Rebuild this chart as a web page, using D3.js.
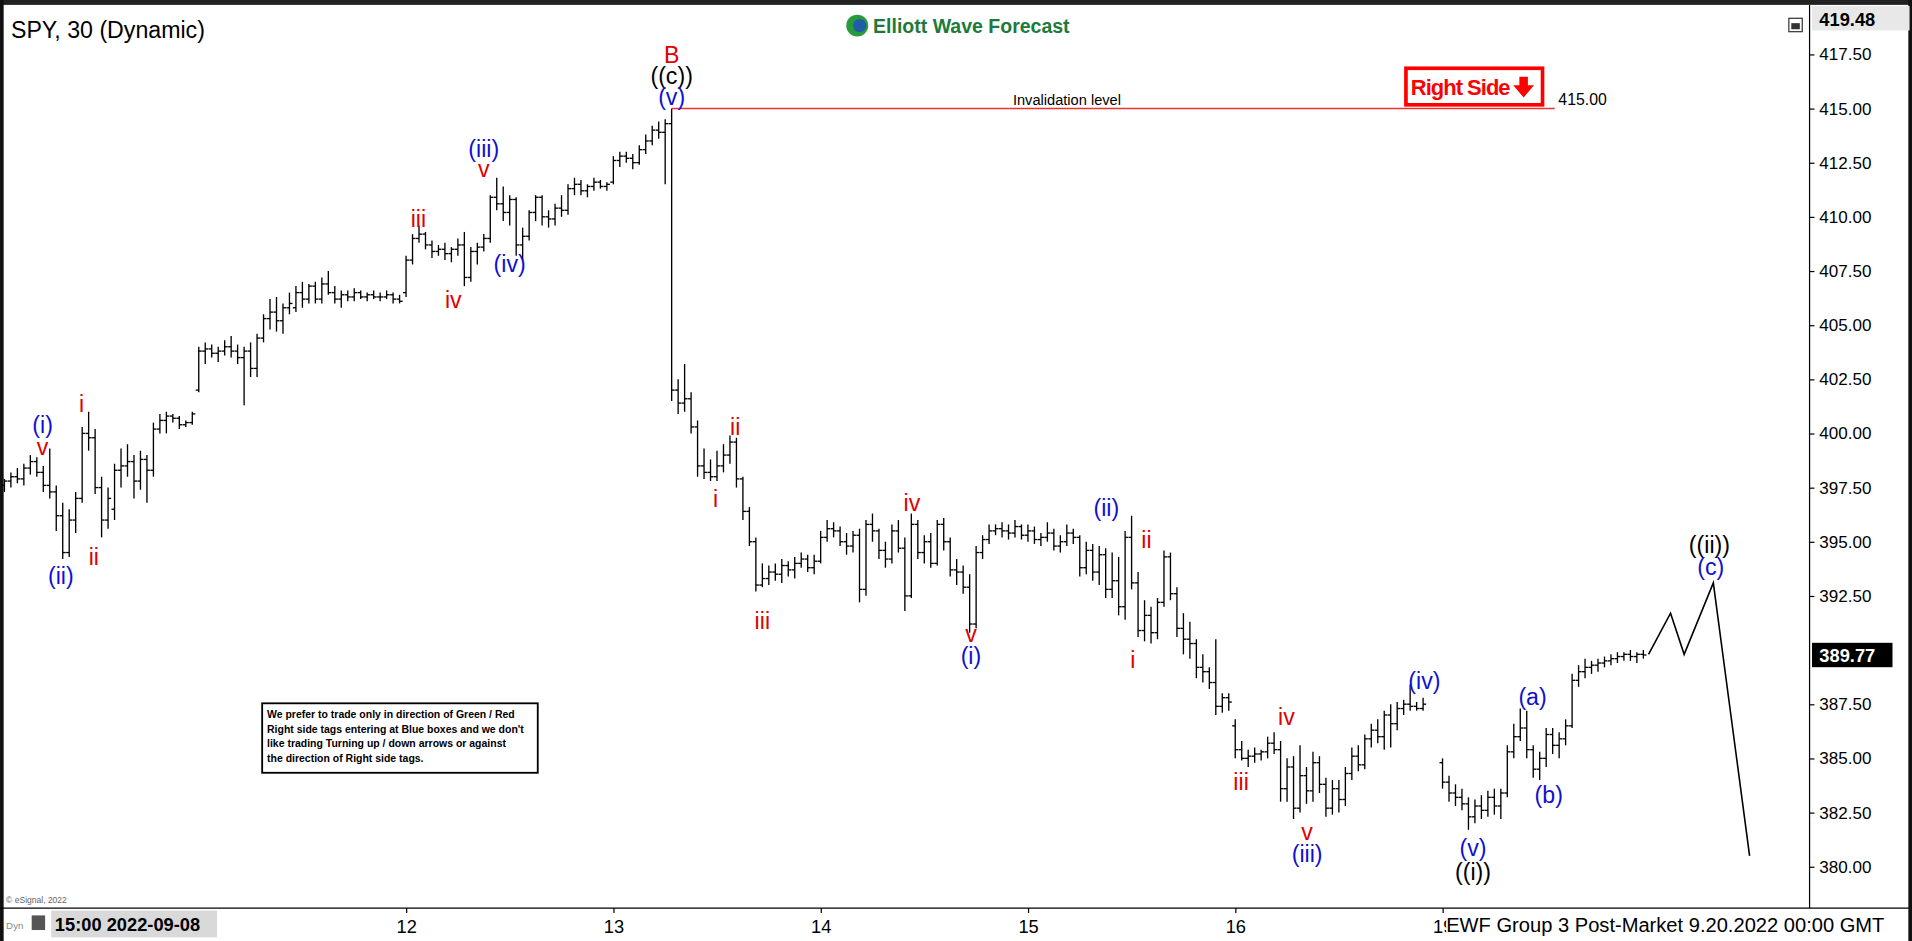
<!DOCTYPE html>
<html><head><meta charset="utf-8">
<script src="https://cdn.jsdelivr.net/npm/d3@7"></script>
<style>body{margin:0;background:#fff;overflow:hidden}svg{display:block;font-family:Arial,"Liberation Sans",sans-serif}</style>
</head><body><svg id="canvas"></svg>
<script>
"use strict";
// bars per trading day: [open, high, low, close]
var days = ["08", "09", "12", "13", "14", "15", "16", "19"];
var dayLabels = ["", "", "12", "13", "14", "15", "16", "19"];
var firstSlot = [2, 0, 0, 0, 0, 0, 0, 0];

var sep08 = [[397.6,397.9,397.3,397.8],[397.8,398.2,397.5,398.0],[398.0,398.4,397.7,397.9],[397.9,398.6,397.6,398.4],[398.4,399.0,398.1,398.7],[398.7,398.9,398.0,398.2],[398.2,398.5,397.3,397.6],[397.6,399.3,397.0,397.3],[397.3,397.6,395.5,396.2],[396.2,396.8,394.2,394.5],[394.5,396.5,394.3,396.0],[396.0,397.3,395.4,397.0],[397.0,400.3,396.8,400.0],[400.0,401.0,399.2,399.8],[399.8,400.2,397.2,397.5],[397.5,398.0,395.2,396.0],[396.0,397.5,395.6,397.0],[396.5,398.6,396.0,398.3],[398.3,399.3,397.5,398.5],[398.5,399.5,398.0,398.7],[398.7,399.0,397.0,397.8],[397.8,399.2,397.4,398.8],[398.8,399.0,396.8,398.3],[398.3,400.5,398.0,400.2],[400.2,400.9,400.0,400.6],[400.6,401.0,400.0,400.8],[400.8,400.9,400.5,400.7],[400.7,400.8,400.2,400.4],[400.4,400.6,400.3,400.5],[400.5,401.0,400.4,400.9]];
var sep09 = [[402.0,404.0,401.9,403.8],[403.8,404.2,403.2,403.9],[403.9,404.1,403.5,403.7],[403.7,404.0,403.3,403.8],[403.8,404.3,403.6,404.0],[404.0,404.5,403.5,403.8],[403.8,404.1,403.2,403.5],[403.5,404.0,401.3,403.8],[403.8,404.2,402.6,403.0],[403.0,404.6,402.6,404.4],[404.4,405.5,404.2,405.3],[405.3,406.2,404.8,405.6],[405.6,406.3,404.7,405.2],[405.2,406.0,404.6,405.8],[405.8,406.5,405.5,406.0],[405.8,406.8,405.6,406.5],[406.5,407.0,405.8,406.2],[406.2,406.9,406.0,406.8],[406.8,407.0,406.0,406.2],[406.2,407.2,406.0,406.9],[406.9,407.5,406.4,406.5],[406.5,406.8,406.0,406.2],[406.2,406.6,405.8,406.4],[406.4,406.6,406.1,406.3],[406.3,406.7,406.1,406.5],[406.5,406.6,406.2,406.3],[406.3,406.5,406.1,406.4],[406.4,406.6,406.2,406.3],[406.3,406.5,406.1,406.3],[406.3,406.6,406.2,406.4],[406.4,406.5,406.0,406.2],[406.2,406.4,406.0,406.1]];
var sep12 = [[406.5,408.2,406.3,408.0],[408.0,409.2,407.8,409.0],[409.0,409.6,408.8,409.2],[409.2,409.3,408.5,408.7],[408.7,408.9,408.1,408.4],[408.4,408.7,408.2,408.5],[408.5,408.8,408.0,408.3],[408.3,408.6,407.9,408.5],[408.5,409.0,408.2,408.7],[408.7,409.3,406.8,407.2],[407.2,408.6,407.0,408.4],[408.4,408.8,407.8,408.6],[408.6,409.2,408.4,409.0],[409.0,411.0,408.8,410.9],[410.9,411.8,410.3,410.6],[410.6,411.4,409.8,410.2],[410.2,411.0,409.6,410.8],[410.8,410.9,408.2,408.7],[408.7,409.5,408.0,409.1],[409.1,410.3,408.9,410.2],[410.2,411.0,409.8,410.9],[410.9,411.0,409.6,410.0],[410.0,410.3,409.5,409.9],[409.9,410.6,409.6,410.4],[410.4,411.0,410.0,410.3],[410.3,411.5,410.1,411.3],[411.3,411.8,411.0,411.5],[411.5,411.7,411.0,411.2],[411.2,411.5,410.9,411.4],[411.4,411.8,411.2,411.6],[411.6,411.7,411.3,411.4],[411.4,411.6,411.2,411.5]];
var sep13 = [[411.6,412.8,411.5,412.6],[412.6,413.0,412.3,412.8],[412.8,413.0,412.5,412.7],[412.7,412.9,412.2,412.5],[412.5,413.3,412.4,413.1],[413.1,413.8,412.9,413.5],[413.5,414.2,413.3,414.0],[414.0,414.4,413.6,413.9],[413.9,414.5,411.5,414.3],[414.3,415.0,401.5,402.0],[402.0,402.5,400.9,401.4],[401.4,403.2,401.0,401.6],[401.6,401.9,400.0,400.3],[400.3,400.6,398.0,398.5],[398.5,399.3,397.9,398.2],[398.2,398.8,397.8,398.0],[398.0,399.2,397.8,398.5],[398.5,399.5,398.2,399.0],[399.0,399.9,398.6,399.6],[399.6,399.8,397.5,397.9],[397.9,398.0,396.0,396.4],[396.4,396.6,394.8,395.0],[395.0,395.2,392.7,393.0],[393.0,394.0,392.9,393.3],[393.3,393.9,393.0,393.6],[393.6,394.0,393.2,393.5],[393.5,394.2,393.1,393.9],[393.9,394.1,393.4,393.7],[393.7,394.3,393.3,394.0],[394.0,394.5,393.8,394.2],[394.2,394.4,393.6,393.8],[393.8,394.4,393.5,394.1]];
var sep14 = [[394.1,395.5,394.0,395.2],[395.2,396.0,395.0,395.6],[395.6,395.9,395.2,395.5],[395.5,395.7,394.8,395.0],[395.0,395.4,394.4,394.8],[394.8,395.5,394.5,395.3],[395.3,395.6,392.2,392.8],[392.8,396.0,392.5,395.8],[395.8,396.3,395.0,395.5],[395.5,395.6,394.2,394.6],[394.6,395.0,393.8,394.2],[394.2,395.8,394.0,395.5],[395.5,396.0,394.5,394.7],[394.7,395.2,391.8,392.5],[392.5,396.3,392.4,395.8],[395.8,396.0,394.2,394.5],[394.5,395.3,394.0,395.0],[395.0,395.4,393.8,394.0],[394.0,396.0,393.9,395.8],[395.8,396.1,394.6,395.0],[395.0,395.2,393.4,393.7],[393.7,394.2,393.0,393.6],[393.6,393.9,392.6,392.9],[392.9,393.5,390.8,391.2],[391.2,394.8,391.0,394.5],[394.5,395.3,394.2,395.1],[395.1,395.8,394.9,395.5],[395.5,395.8,395.3,395.6],[395.6,395.9,395.2,395.5],[395.5,395.8,395.1,395.4],[395.4,396.0,395.2,395.7],[395.7,395.8,395.1,395.3]];
var sep15 = [[395.3,395.8,395.0,395.5],[395.5,395.7,394.9,395.1],[395.1,395.4,394.8,395.2],[395.2,395.9,395.0,395.4],[395.4,395.6,394.6,394.8],[394.8,395.3,394.5,395.0],[395.0,395.8,394.8,395.4],[395.4,395.6,394.9,395.2],[395.2,395.3,393.4,393.8],[393.8,395.0,393.5,394.6],[394.6,394.9,393.2,393.6],[393.6,394.8,393.0,394.4],[394.4,394.7,392.4,392.8],[392.8,394.5,392.4,393.2],[393.2,394.3,391.6,392.0],[392.0,395.5,391.4,395.2],[395.2,396.2,392.8,393.1],[393.1,393.6,390.6,390.9],[390.9,392.3,390.4,391.6],[391.6,392.0,390.3,390.8],[390.8,392.4,390.5,392.2],[392.2,394.6,392.0,394.3],[394.3,394.5,392.3,392.6],[392.6,392.9,390.6,391.0],[391.0,391.7,389.8,390.5],[390.5,391.3,389.6,390.3],[390.3,390.5,388.7,389.2],[389.2,389.8,388.5,389.0],[389.0,389.2,388.2,388.5],[388.5,390.5,387.0,387.4],[387.4,388.0,387.1,387.8],[387.8,388.0,387.2,387.6]];
var sep16 = [[386.5,386.8,385.0,385.4],[385.4,385.8,384.9,385.0],[385.0,385.4,384.6,385.1],[385.1,385.5,384.8,385.2],[385.2,385.4,384.9,385.3],[385.3,386.0,385.0,385.7],[385.7,386.2,385.2,385.4],[385.4,385.8,383.0,383.6],[383.6,385.0,383.0,384.6],[384.6,385.1,382.2,382.7],[382.7,385.6,382.5,384.2],[384.2,384.6,382.9,383.5],[383.5,385.3,383.0,384.8],[384.8,385.1,383.4,383.8],[383.8,384.1,382.3,382.7],[382.7,384.0,382.4,383.6],[383.6,384.0,382.5,383.1],[383.1,384.6,382.8,384.3],[384.3,385.5,384.0,385.1],[385.1,385.6,384.4,384.7],[384.7,386.1,384.5,385.9],[385.9,386.6,385.5,386.3],[386.3,386.8,385.7,386.0],[386.0,387.2,385.4,387.0],[387.0,387.5,385.5,386.6],[386.6,387.6,386.3,387.3],[387.3,387.7,387.0,387.5],[387.5,388.4,387.2,387.4],[387.4,387.6,387.2,387.3],[387.3,387.8,387.2,387.5]];
var sep19 = [[384.8,385.0,383.6,383.9],[383.9,384.2,383.0,383.4],[383.4,383.8,382.8,383.2],[383.2,383.6,382.6,382.9],[382.9,383.2,381.7,382.3],[382.3,383.1,382.0,382.8],[382.8,383.3,382.2,382.6],[382.6,383.5,382.3,383.2],[383.2,383.6,382.4,382.8],[382.8,383.6,382.2,383.4],[383.4,385.6,383.2,385.3],[385.3,386.6,385.0,386.0],[386.0,387.3,385.8,386.4],[386.4,387.2,385.0,385.4],[385.4,385.6,384.1,384.5],[384.5,385.3,384.0,385.0],[385.0,386.4,384.6,386.1],[386.1,386.4,385.2,385.6],[385.6,386.2,385.0,385.9],[385.9,386.8,385.6,386.5],[386.5,388.9,386.4,388.6],[388.6,389.3,388.3,389.0],[389.0,389.6,388.7,389.2],[389.2,389.5,388.9,389.3],[389.3,389.6,389.0,389.4],[389.4,389.7,389.2,389.5],[389.5,389.8,389.3,389.6],[389.6,389.9,389.4,389.7],[389.7,389.9,389.5,389.8],[389.8,390.0,389.5,389.7],[389.7,389.9,389.4,389.8],[389.8,390.0,389.6,389.77]];
var dayBars = [sep08, sep09, sep12, sep13, sep14, sep15, sep16, sep19];

var priceTicks = [380, 382.5, 385, 387.5, 392.5, 395, 397.5, 400, 402.5, 405, 407.5, 410, 412.5, 415, 417.5];
var lastPrice = 389.77, topPrice = 419.48, invalidation = 415.00;

// projected path [slot, price]
var projection = [[255.8, 389.8], [259.2, 391.7], [261.3, 389.8], [265.8, 393.1], [271.4, 380.5]];

// wave labels [text, slot, price, colour]
var waves = [
  ["(i)", 7.9, 400.31, "b"], ["v", 7.9, 399.3, "r"], ["(ii)", 10.7, 393.34, "b"],
  ["i", 13.9, 401.27, "r"], ["ii", 15.8, 394.23, "r"],
  ["iii", 65.9, 409.82, "r"], ["iv", 71.3, 406.05, "r"],
  ["(iii)", 76.0, 413.03, "b"], ["v", 76.0, 412.13, "r"], ["(iv)", 80.0, 407.74, "b"],
  ["B", 105.0, 417.36, "r"], ["((c))", 105.0, 416.41, "k"], ["(v)", 105.0, 415.45, "b"],
  ["i", 111.8, 396.88, "r"], ["ii", 114.8, 400.2, "r"], ["iii", 119.0, 391.25, "r"],
  ["iv", 142.1, 396.71, "r"], ["v", 151.2, 390.63, "r"], ["(i)", 151.2, 389.62, "b"],
  ["(ii)", 172.1, 396.49, "b"], ["ii", 178.3, 394.97, "r"], ["i", 176.2, 389.45, "r"],
  ["iii", 192.9, 383.82, "r"], ["iv", 199.9, 386.81, "r"], ["v", 203.1, 381.52, "r"],
  ["(iii)", 203.1, 380.51, "b"], ["(iv)", 221.2, 388.49, "b"],
  ["(v)", 228.7, 380.78, "b"], ["((i))", 228.7, 379.66, "k"],
  ["(a)", 237.9, 387.76, "b"], ["(b)", 240.4, 383.21, "b"],
  ["((ii))", 265.2, 394.74, "k"], ["(c)", 265.4, 393.73, "b"]
];
var colours = {r: "#e00000", b: "#1010d0", k: "#000"};

var noteLines = ["We prefer to trade only in direction of Green / Red",
  "Right side tags entering at Blue boxes and we don't",
  "like trading Turning up / down arrows or against",
  "the direction of Right side tags."];

var W = 1568, H = 772;
var svg = d3.select("#canvas").attr("width", innerWidth).attr("height", innerHeight)
  .attr("viewBox", "0 0 " + W + " " + H).attr("preserveAspectRatio", "none");

var bars = [];
dayBars.forEach(function(arr, d) {
  arr.forEach(function(b, i) {
    bars.push({slot: d * 32 + firstSlot[d] + i, o: b[0], h: b[1], l: b[2], c: b[3]});
  });
});

var x = d3.scaleLinear().domain([0, 32]).range([-7, 163]);
var y = d3.scaleLinear().domain([380, 415]).range([711, 89]);

svg.append("rect").attr("width", W).attr("height", H).attr("fill", "#fff");
// frame
svg.append("rect").attr("x", 0).attr("y", 0).attr("width", W).attr("height", 4).attr("fill", "#222");
svg.append("rect").attr("x", 0).attr("y", 0).attr("width", 3).attr("height", H).attr("fill", "#111");
svg.append("line").attr("x1", 1484).attr("x2", 1484).attr("y1", 4).attr("y2", 745).attr("stroke", "#000");
svg.append("line").attr("x1", 0).attr("x2", W).attr("y1", 745).attr("y2", 745).attr("stroke", "#000");
svg.append("rect").attr("x", W - 3).attr("y", 0).attr("width", 3).attr("height", H).attr("fill", "#111");

// price axis
var yAxis = svg.append("g").attr("transform", "translate(1484,0)")
  .call(d3.axisRight(y).tickValues(priceTicks).tickFormat(d3.format(".2f")).tickSize(4));
yAxis.select(".domain").remove();
yAxis.selectAll("text").attr("font-size", 14).attr("fill", "#000").attr("x", 8);

// date axis
var xAxis = svg.append("g").attr("transform", "translate(0,745)")
  .call(d3.axisBottom(x).tickValues(d3.range(2, 8).map(function(d) { return d * 32; }))
    .tickFormat(function(d) { return dayLabels[d / 32]; }).tickSize(4));
xAxis.select(".domain").remove();
xAxis.selectAll("text").attr("font-size", 15).attr("fill", "#000").attr("dy", "0.9em");

// OHLC bars
var g = svg.append("g").attr("stroke", "#000").attr("stroke-width", 1.1);
g.selectAll(".hl").data(bars).join("line")
  .attr("x1", function(d) { return x(d.slot); }).attr("x2", function(d) { return x(d.slot); })
  .attr("y1", function(d) { return y(d.h); }).attr("y2", function(d) { return y(d.l); });
g.selectAll(".op").data(bars).join("line")
  .attr("x1", function(d) { return x(d.slot) - 2.5; }).attr("x2", function(d) { return x(d.slot); })
  .attr("y1", function(d) { return y(d.o); }).attr("y2", function(d) { return y(d.o); });
g.selectAll(".cl").data(bars).join("line")
  .attr("x1", function(d) { return x(d.slot); }).attr("x2", function(d) { return x(d.slot) + 2.5; })
  .attr("y1", function(d) { return y(d.c); }).attr("y2", function(d) { return y(d.c); });

// projection
svg.append("path").datum(projection)
  .attr("d", d3.line().x(function(d) { return x(d[0]); }).y(function(d) { return y(d[1]); }))
  .attr("fill", "none").attr("stroke", "#000").attr("stroke-width", 1.3);

// invalidation line
svg.append("line").attr("x1", x(105)).attr("x2", 1275).attr("y1", y(invalidation)).attr("y2", y(invalidation))
  .attr("stroke", "#e33").attr("stroke-width", 1.2);
svg.append("text").attr("x", 875).attr("y", y(invalidation) - 3).attr("text-anchor", "middle")
  .attr("font-size", 12).text("Invalidation level");
svg.append("text").attr("x", 1278).attr("y", y(invalidation) - 3).attr("font-size", 13).text("415.00");

// right side tag
svg.append("rect").attr("x", 1153).attr("y", 56).attr("width", 112).attr("height", 30)
  .attr("fill", "#fff").attr("stroke", "#f00").attr("stroke-width", 3);
svg.append("text").attr("x", 1157).attr("y", 78).attr("font-size", 18).attr("font-weight", "bold")
  .attr("fill", "#f00").attr("letter-spacing", -0.8).text("Right Side");
svg.append("path").attr("d", "M1246,63h7v7h5l-8.5,10l-8.5,-10h5z").attr("fill", "#f00");

// wave labels
svg.append("g").selectAll("text").data(waves).join("text")
  .attr("x", function(d) { return x(d[1]); }).attr("y", function(d) { return y(d[2]); })
  .attr("text-anchor", "middle").attr("dominant-baseline", "middle")
  .attr("font-size", 19).attr("fill", function(d) { return colours[d[3]]; })
  .text(function(d) { return d[0]; });

// current / top price boxes
svg.append("rect").attr("x", 1486).attr("y", y(lastPrice) - 10).attr("width", 66).attr("height", 20).attr("fill", "#000");
svg.append("text").attr("x", 1492).attr("y", y(lastPrice) + 6).attr("font-size", 15).attr("font-weight", "bold")
  .attr("fill", "#fff").text(lastPrice.toFixed(2));
svg.append("rect").attr("x", 1486).attr("y", 5).attr("width", 80).attr("height", 20).attr("fill", "#e8e8e8");
svg.append("text").attr("x", 1492).attr("y", 21).attr("font-size", 15).attr("font-weight", "bold")
  .text(topPrice.toFixed(2));
svg.append("rect").attr("x", 1467).attr("y", 15).attr("width", 11).attr("height", 11).attr("fill", "#fff").attr("stroke", "#333");
svg.append("rect").attr("x", 1469).attr("y", 19).attr("width", 7).attr("height", 5).attr("fill", "#333");

// title and logo
svg.append("text").attr("x", 9).attr("y", 31).attr("font-size", 19).text("SPY, 30 (Dynamic)");
svg.append("circle").attr("cx", 703).attr("cy", 21).attr("r", 9).attr("fill", "#2a9a3a");
svg.append("circle").attr("cx", 705).attr("cy", 21).attr("r", 5.5).attr("fill", "#1f5fa8");
svg.append("text").attr("x", 716).attr("y", 27).attr("font-size", 16).attr("font-weight", "bold")
  .attr("fill", "#1d7a3a").text("Elliott Wave Forecast");

// note box
svg.append("rect").attr("x", 215).attr("y", 577).attr("width", 226).attr("height", 57)
  .attr("fill", "#fff").attr("stroke", "#000").attr("stroke-width", 1.5);
svg.append("g").selectAll("text").data(noteLines).join("text")
  .attr("x", 219).attr("y", function(d, i) { return 589 + i * 12; })
  .attr("font-size", 8.6).attr("font-weight", "bold").text(function(d) { return d; });

// bottom left date box & footer
svg.append("rect").attr("x", 42).attr("y", 747).attr("width", 136).attr("height", 22).attr("fill", "#d9d9d9");
svg.append("text").attr("x", 45).attr("y", 764).attr("font-size", 15).attr("font-weight", "bold").text("15:00 2022-09-08");
svg.append("text").attr("x", 5).attr("y", 762).attr("font-size", 8).attr("fill", "#888").text("Dyn");
svg.append("rect").attr("x", 26).attr("y", 751).attr("width", 11).attr("height", 12).attr("fill", "#555");
svg.append("text").attr("x", 5).attr("y", 741).attr("font-size", 7).attr("fill", "#666").text("© eSignal, 2022");
svg.append("rect").attr("x", 1186).attr("y", 748).attr("width", 378).attr("height", 21).attr("fill", "#fff");
svg.append("text").attr("x", 1186).attr("y", 765).attr("font-size", 16.5).text("EWF Group 3 Post-Market 9.20.2022 00:00 GMT");
</script></body></html>
